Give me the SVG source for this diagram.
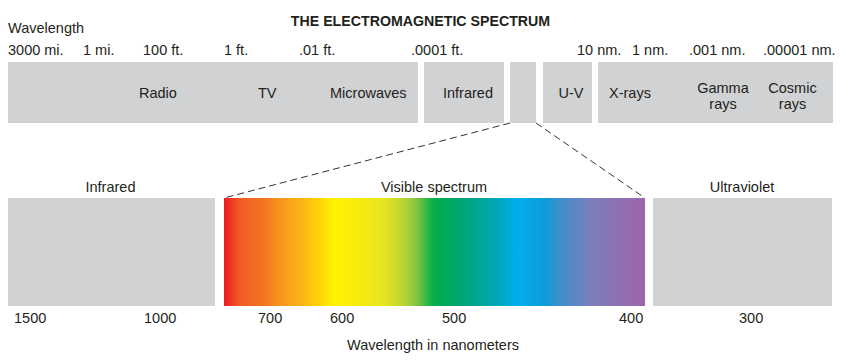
<svg xmlns="http://www.w3.org/2000/svg" width="852" height="362" viewBox="0 0 852 362">
<defs>
<style>
text{font-family:"Liberation Sans",Arial,sans-serif;font-size:14.5px;fill:#231f20}
.t{font-weight:bold;font-size:14.2px}
.m{text-anchor:middle}
.box{fill:#d1d2d4}
.dash{stroke:#333;stroke-width:1;stroke-dasharray:7,4;fill:none}
</style>
<linearGradient id="vis" x1="224" y1="0" x2="645" y2="0" gradientUnits="userSpaceOnUse">
<stop offset="0" stop-color="#ed1c24"/>
<stop offset="0.038" stop-color="#f15a24"/>
<stop offset="0.09" stop-color="#f37321"/>
<stop offset="0.133" stop-color="#f7941d"/>
<stop offset="0.18" stop-color="#fbb317"/>
<stop offset="0.223" stop-color="#fdd008"/>
<stop offset="0.26" stop-color="#fff200"/>
<stop offset="0.33" stop-color="#f6eb12"/>
<stop offset="0.385" stop-color="#e3e322"/>
<stop offset="0.43" stop-color="#b5d334"/>
<stop offset="0.46" stop-color="#7fc342"/>
<stop offset="0.494" stop-color="#0db14b"/>
<stop offset="0.513" stop-color="#00aa50"/>
<stop offset="0.584" stop-color="#00a583"/>
<stop offset="0.644" stop-color="#00a7b5"/>
<stop offset="0.698" stop-color="#00aeef"/>
<stop offset="0.762" stop-color="#0d9bdb"/>
<stop offset="0.798" stop-color="#3f8fca"/>
<stop offset="0.869" stop-color="#7b7fbb"/>
<stop offset="1" stop-color="#a064a9"/>
</linearGradient>
</defs>

<text class="t m" x="420.5" y="26">THE ELECTROMAGNETIC SPECTRUM</text>
<text x="8" y="33">Wavelength</text>

<g id="scale-top">
<text x="8" y="55">3000 mi.</text>
<text x="83" y="55">1 mi.</text>
<text x="143" y="55">100 ft.</text>
<text x="224" y="55">1 ft.</text>
<text x="299" y="55">.01 ft.</text>
<text x="411" y="55">.0001 ft.</text>
<text x="577" y="55">10 nm.</text>
<text x="632" y="55">1 nm.</text>
<text x="689" y="55">.001 nm.</text>
<text x="763" y="55">.00001 nm.</text>
</g>

<g id="radio-tv-micro">
<rect class="box" x="8" y="62" width="410" height="61"/>
<text x="139" y="98">Radio</text>
<text x="258" y="98">TV</text>
<text x="330" y="98">Microwaves</text>
</g>
<g id="infrared-top">
<rect class="box" x="424" y="62" width="80" height="61"/>
<text class="m" x="468" y="98">Infrared</text>
</g>
<g id="visible-top">
<rect class="box" x="510" y="62" width="26" height="61"/>
</g>
<g id="uv-top">
<rect class="box" x="543" y="62" width="49" height="61"/>
<text class="m" x="571" y="98">U-V</text>
</g>
<g id="xray-gamma-cosmic">
<rect class="box" x="598" y="62" width="235" height="61"/>
<text x="609" y="98">X-rays</text>
<text class="m" x="723" y="93">Gamma</text>
<text class="m" x="723" y="109">rays</text>
<text class="m" x="792.5" y="93">Cosmic</text>
<text class="m" x="792.5" y="109">rays</text>
</g>

<g id="connectors">
<line class="dash" x1="510" y1="123" x2="224" y2="198"/>
<line class="dash" x1="536" y1="123" x2="645" y2="198"/>
</g>

<g id="infrared-bottom">
<text class="m" x="110.5" y="192">Infrared</text>
<rect class="box" x="8" y="198" width="207" height="108"/>
</g>
<g id="visible-bottom">
<text class="m" x="434" y="192">Visible spectrum</text>
<rect x="224" y="198" width="421" height="108" fill="url(#vis)"/>
</g>
<g id="uv-bottom">
<text class="m" x="742" y="192">Ultraviolet</text>
<rect class="box" x="653" y="198" width="179" height="108"/>
</g>

<g id="scale-bottom">
<text x="14" y="323">1500</text>
<text x="144" y="323">1000</text>
<text x="258" y="323">700</text>
<text x="330" y="323">600</text>
<text x="442" y="323">500</text>
<text x="619" y="323">400</text>
<text x="739" y="323">300</text>
<text class="m" x="433" y="350">Wavelength in nanometers</text>
</g>
</svg>
